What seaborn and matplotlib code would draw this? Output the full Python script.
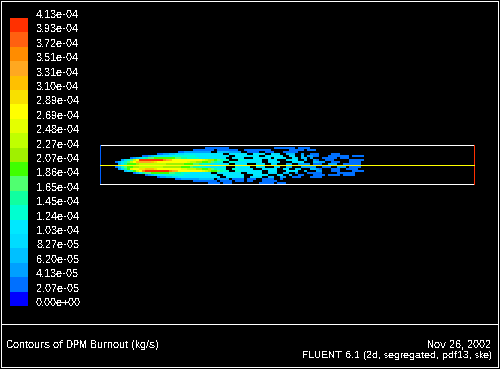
import numpy as np
import matplotlib
matplotlib.use('Agg')
import matplotlib.pyplot as plt
import seaborn as sns
from matplotlib.colors import ListedColormap

W, H = 500, 369

# colour bands, bottom (0.00e+00) to top
BAND_COLORS = ['#0000ff', '#0070ff', '#00a0ff', '#00c0ff', '#00dcff',
               '#00e8ff', '#00ffd0', '#10ffa0', '#50ff70', '#40ff00',
               '#a0f000', '#c0ff00', '#e4ff00', '#ffff00', '#f8e000',
               '#ffc000', '#ffa820', '#ff8c00', '#ff6010', '#ff3000']

LEVEL_LABELS = ['0.00e+00', '2.07e-05', '4.13e-05', '6.20e-05', '8.27e-05',
                '1.03e-04', '1.24e-04', '1.45e-04', '1.65e-04', '1.86e-04',
                '2.07e-04', '2.27e-04', '2.48e-04', '2.69e-04', '2.89e-04',
                '3.10e-04', '3.31e-04', '3.51e-04', '3.72e-04', '3.93e-04',
                '4.13e-04']

# plume: one char per cell, band index in base 36, '.' = no contour
PLUME_UPPER = [
    "...............................11111111...............1111111.1111",
    "...........................1111111.1111111..111111111......11111.111",
    "......................11222222222..33332222..1111..111...11111",
    "...............1122334445555555555555..555555..5555..544..333..2..111....111",
    "..........11234555556666666655555555555..55555555..555555..44..3.2211...1111111.1111",
    "......12356788999999988776666555555555..5555...555555.5555..44.33.2...11111.111",
    "...2468bdjjjjjjjjhgfddddddddddcbaa98766...66555555..555...5555..3..21..111.....11111",
    ".13568bdfggggfeddddddddddcbbaa99a8766..66555555555..5555....5555...3322..111...1111",
    "..357999abbbbbbbbbaaaaaa999887666555555..5555...555..44...33..2222.111..222..111111",
]
PLUME_LOWER = [
    ".136899aabbbbbbbbaaaaaa999877665555555...55555..555...44..33...22222..111..222.1111",
    "..2479cddeefffeddddddddccbbbaa99a87666..6655555...55555..55..44...3321...111..1111",
    "....3579bdhjjjjjjjjhgfddddddddcba998766..665555555..555...5555..3...22...111....11111",
    ".......13578899999988776665555555..55555555..55555..444..33..2...11111.....111111",
    "...........123455566666655555555555..5555555...55555...44..3..11...1111.1111.1111",
    "...............122334455555555555555..555555..4444..33..22..111...1111",
    ".....................1122222233333.2222.1111.111..1111..1",
    "...........................11111111.1111.111.11...11111",
    "................................1111.111.........11111.111",
]

TITLE = 'Contours of DPM Burnout (kg/s)'
DATE = 'Nov 26, 2002'
SOLVER = 'FLUENT 6.1 (2d, segregated, pdf13, ske)'


def px_axes(fig, x0, y0, x1, y1):
    # axes placed by reference pixel box, y counted from the top
    return fig.add_axes([x0 / W, 1 - y1 / H, (x1 - x0) / W, (y1 - y0) / H])


def plume_matrix(rows, ncols=84):
    out = []
    for row in rows:
        row = row.ljust(ncols, '.')[:ncols]
        out.append([np.nan if c == '.' else int(c, 36) for c in row])
    return np.array(out)


sns.set_theme(style='dark')
plt.rcParams['font.family'] = ['Liberation Sans', 'DejaVu Sans']
plt.rcParams['text.antialiased'] = False
plt.rcParams['text.hinting'] = 'native'
plt.rcParams['text.hinting_factor'] = 1
plt.rcParams['lines.antialiased'] = False

fig = plt.figure(figsize=(W / 100, H / 100), dpi=100, facecolor='black')
cmap = ListedColormap(BAND_COLORS)

# colour bar
ax_bar = px_axes(fig, 10, 18, 28, 306)
bands = np.arange(len(BAND_COLORS))[::-1].reshape(-1, 1)
sns.heatmap(bands, ax=ax_bar, cmap=cmap, vmin=-0.5, vmax=19.5, cbar=False,
            xticklabels=False)
ax_bar.set_yticks(np.arange(len(LEVEL_LABELS)))
ax_bar.set_yticklabels(LEVEL_LABELS[::-1], rotation=0, color='white', fontsize=7.7, va='baseline')
ax_bar.yaxis.tick_right()
ax_bar.tick_params(axis='y', length=0, pad=5.8)

# plume contours
ax_plume = px_axes(fig, 112, 147, 364, 184)
plume = np.vstack([plume_matrix(PLUME_UPPER), plume_matrix(PLUME_LOWER)])
sns.heatmap(plume, ax=ax_plume, cmap=cmap, vmin=-0.5, vmax=19.5, cbar=False,
            xticklabels=False, yticklabels=False)
ax_plume.patch.set_alpha(0)

# frame, domain box and captions in pixel coordinates
ax = fig.add_axes([0, 0, 1, 1], facecolor='none')
ax.set_xlim(0, W)
ax.set_ylim(H, 0)
ax.axis('off')
ax.plot([1, 498, 498, 1, 1], [1, 1, 367, 367, 1], color='white', lw=0.72)
ax.plot([1, 498], [324, 324], color='white', lw=0.72)
ax.plot([100, 474], [145, 145], color='white', lw=0.72)
ax.plot([100, 474], [184, 184], color='white', lw=0.72)
ax.plot([100, 100], [145, 184], color='white', lw=0.72)
ax.plot([100, 100], [145, 184], color='#0060ff', lw=0.72, ls=(0, (1, 1)))
ax.plot([474, 474], [145, 184], color='#ff3000', lw=0.72)
ax.plot([100, 474], [165, 165], color='#ffff00', lw=0.72)

ax.text(6, 345.5, TITLE, color='white', fontsize=7.7, va='center', ha='left')
ax.text(491, 345, DATE, color='white', fontsize=7.7, va='center', ha='right')
ax.text(492, 355.5, SOLVER, color='white', fontsize=7.5, va='center', ha='right')

fig.savefig('out.png', dpi=100, facecolor='black')
